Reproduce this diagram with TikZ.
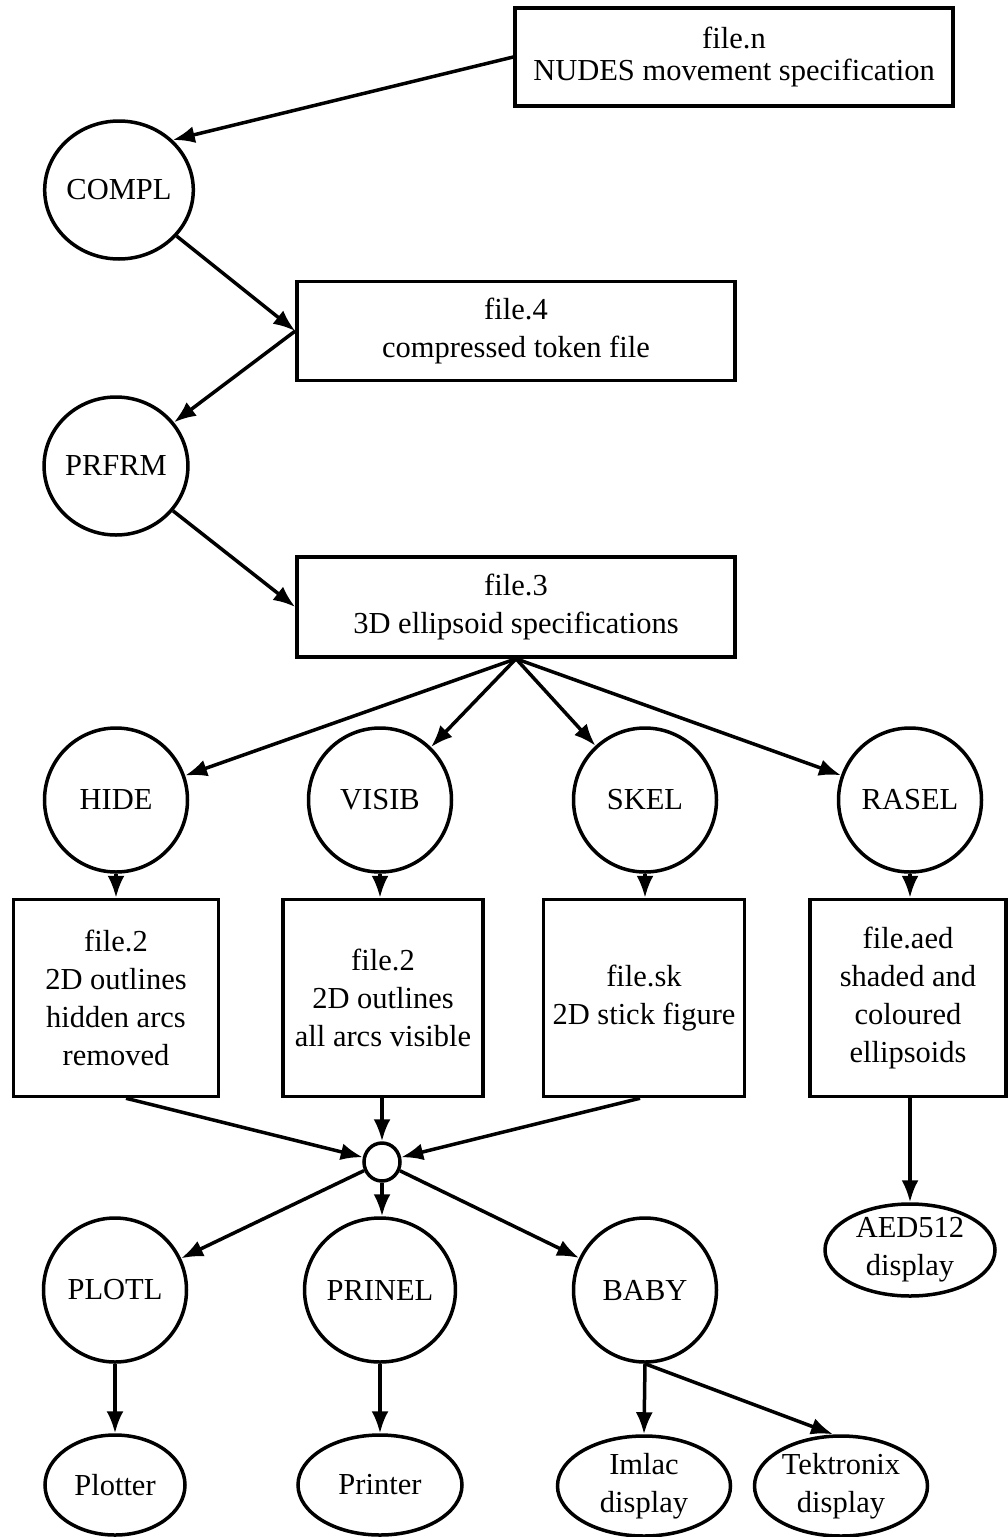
\documentclass[tikz,border=0pt]{standalone}
\usepackage{fontspec}
\setmainfont{Liberation Serif}
\usetikzlibrary{shapes.geometric,arrows.meta}
\begin{document}
\begin{tikzpicture}[x=1pt,y=-1pt,
  every node/.style={font=\fontsize{30.5}{38}\selectfont, align=center, inner sep=0pt},
  filebox/.style={draw, line width=3.5pt, rectangle},
  proc/.style={draw, line width=3.5pt, ellipse, minimum width=143pt, minimum height=144pt},
  dev/.style={draw, line width=3.5pt, ellipse, minimum height=100pt},
  arr/.style={line width=3.5pt, -{Latex[length=22pt,width=17pt]}}]
\useasboundingbox (0,0) rectangle (1008,1537);
\fill[white] (0,0) rectangle (1008,1537);
% file boxes
\node[filebox, minimum width=438pt, minimum height=98pt] (fn) at (734,57) {file.n\\[-6pt]NUDES movement specification};
\node[proc, minimum width=142pt, minimum height=138pt] (compl) at (119,190) {COMPL};
\node[filebox, minimum width=438pt, minimum height=99pt] (f4) at (516,331) {file.4\\compressed token file};
\node[proc, minimum width=142pt, minimum height=138pt] (prfrm) at (116,466) {PRFRM};
\node[filebox, minimum width=438pt, minimum height=100pt] (f3) at (516,607) {file.3\\3D ellipsoid specifications};
% processes row
\node[proc] (hide) at (116,800) {HIDE};
\node[proc] (visib) at (380,800) {VISIB};
\node[proc] (skel) at (645,800) {SKEL};
\node[proc] (rasel) at (910,800) {RASEL};
% output files
\node[filebox, minimum width=205pt, minimum height=197pt] (b1) at (116,998) {file.2\\2D outlines\\hidden arcs\\removed};
\node[filebox, minimum width=200pt, minimum height=197pt] (b2) at (383,998) {file.2\\2D outlines\\all arcs visible};
\node[filebox, minimum width=201pt, minimum height=197pt] (b3) at (644,998) {file.sk\\2D stick figure};
\node[filebox, minimum width=196pt, minimum height=197pt] (b4) at (908,998) {file.aed\\shaded and\\coloured\\ellipsoids};
% junction
\node[draw, line width=3.5pt, ellipse, minimum width=36pt, minimum height=38pt] (j) at (382,1162) {};
% display processes
\node[proc] (plotl) at (115,1290) {PLOTL};
\node[proc] (prinel) at (380,1290) {PRINEL};
\node[proc] (baby) at (645,1290) {BABY};
\node[dev, minimum width=170pt, minimum height=92pt] (aed) at (910,1250) {AED512\\display};
% devices
\node[dev, minimum width=140pt] (plotter) at (115,1485) {Plotter};
\node[dev, minimum width=164pt] (printer) at (380,1485) {Printer};
\node[dev, minimum width=173pt] (imlac) at (644,1486) {Imlac\\display};
\node[dev, minimum width=173pt] (tek) at (841,1486) {Tektronix\\display};
% connectors
\draw[arr] (fn.west) -- (compl.north east);
\draw[arr] (compl) -- (f4.west);
\draw[arr] (f4.west) -- (prfrm);
\draw[arr] (prfrm) -- (f3.west);
\draw[arr] (f3.south) -- (hide);
\draw[arr] (f3.south) -- (visib);
\draw[arr] (f3.south) -- (skel);
\draw[arr] (f3.south) -- (rasel);
\draw[arr] (hide.south) -- (b1.north);
\draw[arr] (visib.south) -- (visib.south |- b2.north);
\draw[arr] (skel.south) -- (skel.south |- b3.north);
\draw[arr] (rasel.south) -- (rasel.south |- b4.north);
\draw[arr] ([xshift=10pt]b1.south) -- (j);
\draw[arr] (j.north |- b2.south) -- (j.north);
\draw[arr] ([xshift=-4pt]b3.south) -- (j);
\draw[arr] (b4.south -| aed.north) -- (aed.north);
\draw[arr] (j) -- (plotl);
\draw[arr] (j.south) -- (j.south |- prinel.north);
\draw[arr] (j) -- (baby);
\draw[arr] (plotl.south) -- (plotter.north);
\draw[arr] (prinel.south) -- (printer.north);
\draw[arr] (baby.south) -- (imlac.north);
\draw[arr] (baby.south) -- ([xshift=-8pt]tek.north);
\end{tikzpicture}
\end{document}
